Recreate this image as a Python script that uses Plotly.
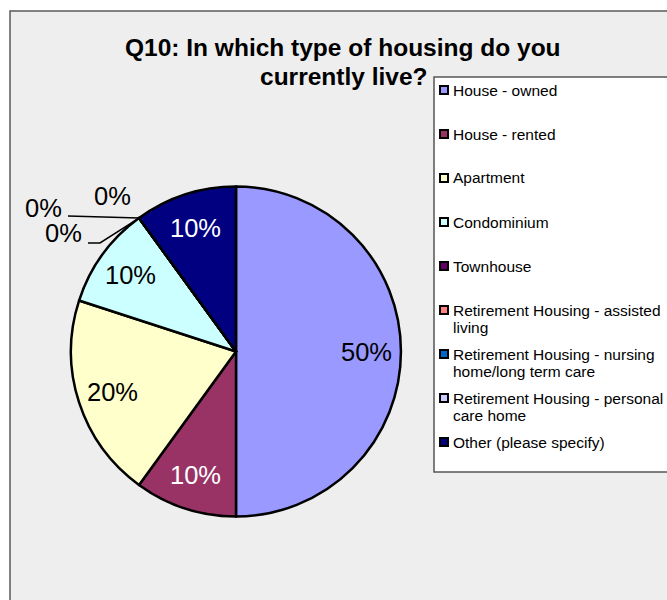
import math
import textwrap
import plotly.graph_objects as go

# Survey responses, Q10 (share of respondents, %)
categories = [
    "House - owned",
    "House - rented",
    "Apartment",
    "Condominium",
    "Townhouse",
    "Retirement Housing - assisted living",
    "Retirement Housing - nursing home/long term care",
    "Retirement Housing - personal care home",
    "Other (please specify)",
]
values = [50, 10, 20, 10, 0, 0, 0, 0, 10]
colors = ["#9999FF", "#993366", "#FFFFCC", "#CCFFFF", "#660066",
          "#FF8080", "#0066CC", "#CCCCFF", "#000080"]
title_lines = ["Q10: In which type of housing do you", "currently live?"]

W, H = 667, 600
CX, CY, R = 236, 351.5, 165          # pie centre / radius in pixels
FONT = "Arial, Liberation Sans, sans-serif"


def px(x):
    return x / W


def py(y):
    return 1 - y / H


def rim_point(frac, scale=1.0):
    a = 2 * math.pi * frac
    return CX + scale * R * math.sin(a), CY - scale * R * math.cos(a)


def is_dark(hex_color):
    r, g, b = (int(hex_color[i:i + 2], 16) for i in (1, 3, 5))
    return 0.299 * r + 0.587 * g + 0.114 * b < 90


total = sum(values)

fig = go.Figure(go.Pie(
    labels=categories,
    values=values,
    sort=False,
    direction="clockwise",
    rotation=0,
    marker=dict(colors=colors, line=dict(color="black", width=2.5)),
    textinfo="none",
    hoverinfo="label+percent",
    showlegend=False,
    domain=dict(x=[px(CX - R), px(CX + R)], y=[py(CY + R), py(CY - R)]),
))

shapes = []
annotations = []

# chart area background
shapes.append(dict(type="rect", xref="paper", yref="paper", layer="below",
                   x0=px(10), x1=px(W + 40), y0=py(11), y1=py(H + 40),
                   fillcolor="#EEEEEE", line=dict(color="#5a5a5a", width=1.5)))

# title
for k, line in enumerate(title_lines):
    annotations.append(dict(xref="paper", yref="paper", x=px(343.5), y=py(47 + 30 * k),
                            text=f"<b>{line}</b>", showarrow=False,
                            xanchor="center", yanchor="middle",
                            font=dict(family=FONT, size=24.5, color="black")))

# percentage labels inside the slices
cum = 0
zero_fracs = []
for name, v, c in zip(categories, values, colors):
    frac_mid = (cum + v / 2) / total
    if v > 0:
        x, y = rim_point(frac_mid, 0.79)
        annotations.append(dict(xref="paper", yref="paper", x=px(x), y=py(y),
                                text=f"{round(100 * v / total)}%", showarrow=False,
                                xanchor="center", yanchor="middle",
                                font=dict(family=FONT, size=25.5,
                                          color="white" if is_dark(c) else "black")))
    else:
        zero_fracs.append((cum / total, v))
    cum += v

# labels for the empty slices, with leader lines to the slice boundary
zero_label_pos = [(43, 208), (112.5, 196), (63, 233)]
for (frac, v), (lx, ly) in zip(zero_fracs, zero_label_pos):
    annotations.append(dict(xref="paper", yref="paper", x=px(lx), y=py(ly),
                            text=f"{round(100 * v / total)}%", showarrow=False,
                            xanchor="center", yanchor="middle",
                            font=dict(family=FONT, size=25.5, color="black")))
if zero_fracs:
    ax, ay = rim_point(zero_fracs[0][0])
    shapes.append(dict(type="path", xref="paper", yref="paper",
                       path=f"M {px(68)} {py(216)} L {px(ax)} {py(ay)}",
                       line=dict(color="black", width=1.5)))
    shapes.append(dict(type="path", xref="paper", yref="paper",
                       path=f"M {px(88)} {py(243)} L {px(100)} {py(243)} L {px(ax)} {py(ay)}",
                       line=dict(color="black", width=1.5)))

# legend box
shapes.append(dict(type="rect", xref="paper", yref="paper", layer="above",
                   x0=px(434), x1=px(W + 40), y0=py(77), y1=py(472),
                   fillcolor="white", line=dict(color="#555555", width=1.5)))
for i, (name, c) in enumerate(zip(categories, colors)):
    y0 = 90 + 44 * i
    shapes.append(dict(type="rect", xref="paper", yref="paper", layer="above",
                       x0=px(440), x1=px(448), y0=py(y0 - 4), y1=py(y0 + 4),
                       fillcolor=c, line=dict(color="black", width=2)))
    for k, line in enumerate(textwrap.wrap(name, 29, break_on_hyphens=False)):
        annotations.append(dict(xref="paper", yref="paper", x=px(450.5), y=py(y0 + 17.5 * k),
                                text=line, showarrow=False,
                                xanchor="left", yanchor="middle",
                                font=dict(family=FONT, size=15.5, color="black")))

fig.update_layout(
    width=W, height=H,
    margin=dict(l=0, r=0, t=0, b=0),
    paper_bgcolor="white",
    plot_bgcolor="white",
    shapes=shapes,
    annotations=annotations,
)

fig.write_html("out.html")
